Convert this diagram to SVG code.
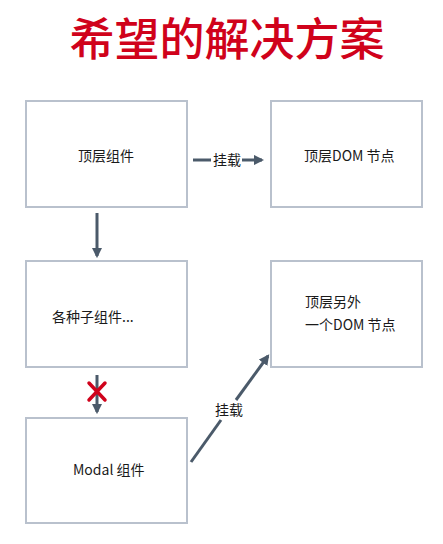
<svg xmlns="http://www.w3.org/2000/svg" width="443" height="544" viewBox="0 0 443 544">
<style>
.box{fill:#fff;stroke:#b9c1cd;stroke-width:2}
.t{font-family:"Noto Sans CJK SC","Noto Sans",sans-serif;font-size:14px;fill:#1a1a1a}
.ln{stroke:#4b5a6a;stroke-width:3;fill:none}
.title{font-family:"Noto Sans CJK SC",sans-serif;font-size:45px;font-weight:500;fill:#d0021b}
</style>
<defs>
<marker id="ah" viewBox="0 0 10 10" refX="8" refY="5" markerWidth="3.5" markerHeight="3.5" orient="auto" markerUnits="strokeWidth">
<path d="M0,0 L10,5 L0,10 z" fill="#4b5a6a"/>
</marker>
</defs>
<rect width="443" height="544" fill="#fff"/>
<text class="title" x="227" y="56" text-anchor="middle">希望的解决方案</text>
<g id="n1"><rect class="box" x="26" y="101" width="161" height="106"/><text class="t" x="106" y="161" text-anchor="middle">顶层组件</text></g>
<g id="n2"><rect class="box" x="271" y="101" width="151" height="106"/><text class="t" x="304" y="161">顶层DOM 节点</text></g>
<g id="n3"><rect class="box" x="26" y="261" width="161" height="106"/><text class="t" x="52" y="322">各种子组件...</text></g>
<g id="n4"><rect class="box" x="271" y="261" width="151" height="106"/><text class="t" x="305" y="307">顶层另外</text><text class="t" x="305" y="330">一个DOM 节点</text></g>
<g id="n5"><rect class="box" x="26" y="418" width="161" height="105"/><text class="t" x="73" y="475">Modal 组件</text></g>
<g id="connectors">
<line class="ln" x1="193" y1="160" x2="211" y2="160"/>
<text class="t" x="213" y="165">挂载</text>
<line class="ln" x1="242" y1="160" x2="262" y2="160" marker-end="url(#ah)"/>
<line class="ln" x1="97" y1="213" x2="97" y2="256" marker-end="url(#ah)"/>
<line class="ln" x1="97" y1="375" x2="97" y2="412" marker-end="url(#ah)"/>
<g stroke="#d0021b" stroke-width="3.5" stroke-linecap="round"><line x1="89" y1="383" x2="105" y2="400"/><line x1="105" y1="383" x2="89" y2="400"/></g>
<line class="ln" x1="191" y1="462" x2="221" y2="420"/>
<text class="t" x="215" y="415">挂载</text>
<line class="ln" x1="236" y1="400" x2="268" y2="356" marker-end="url(#ah)"/>
</g>
</svg>
